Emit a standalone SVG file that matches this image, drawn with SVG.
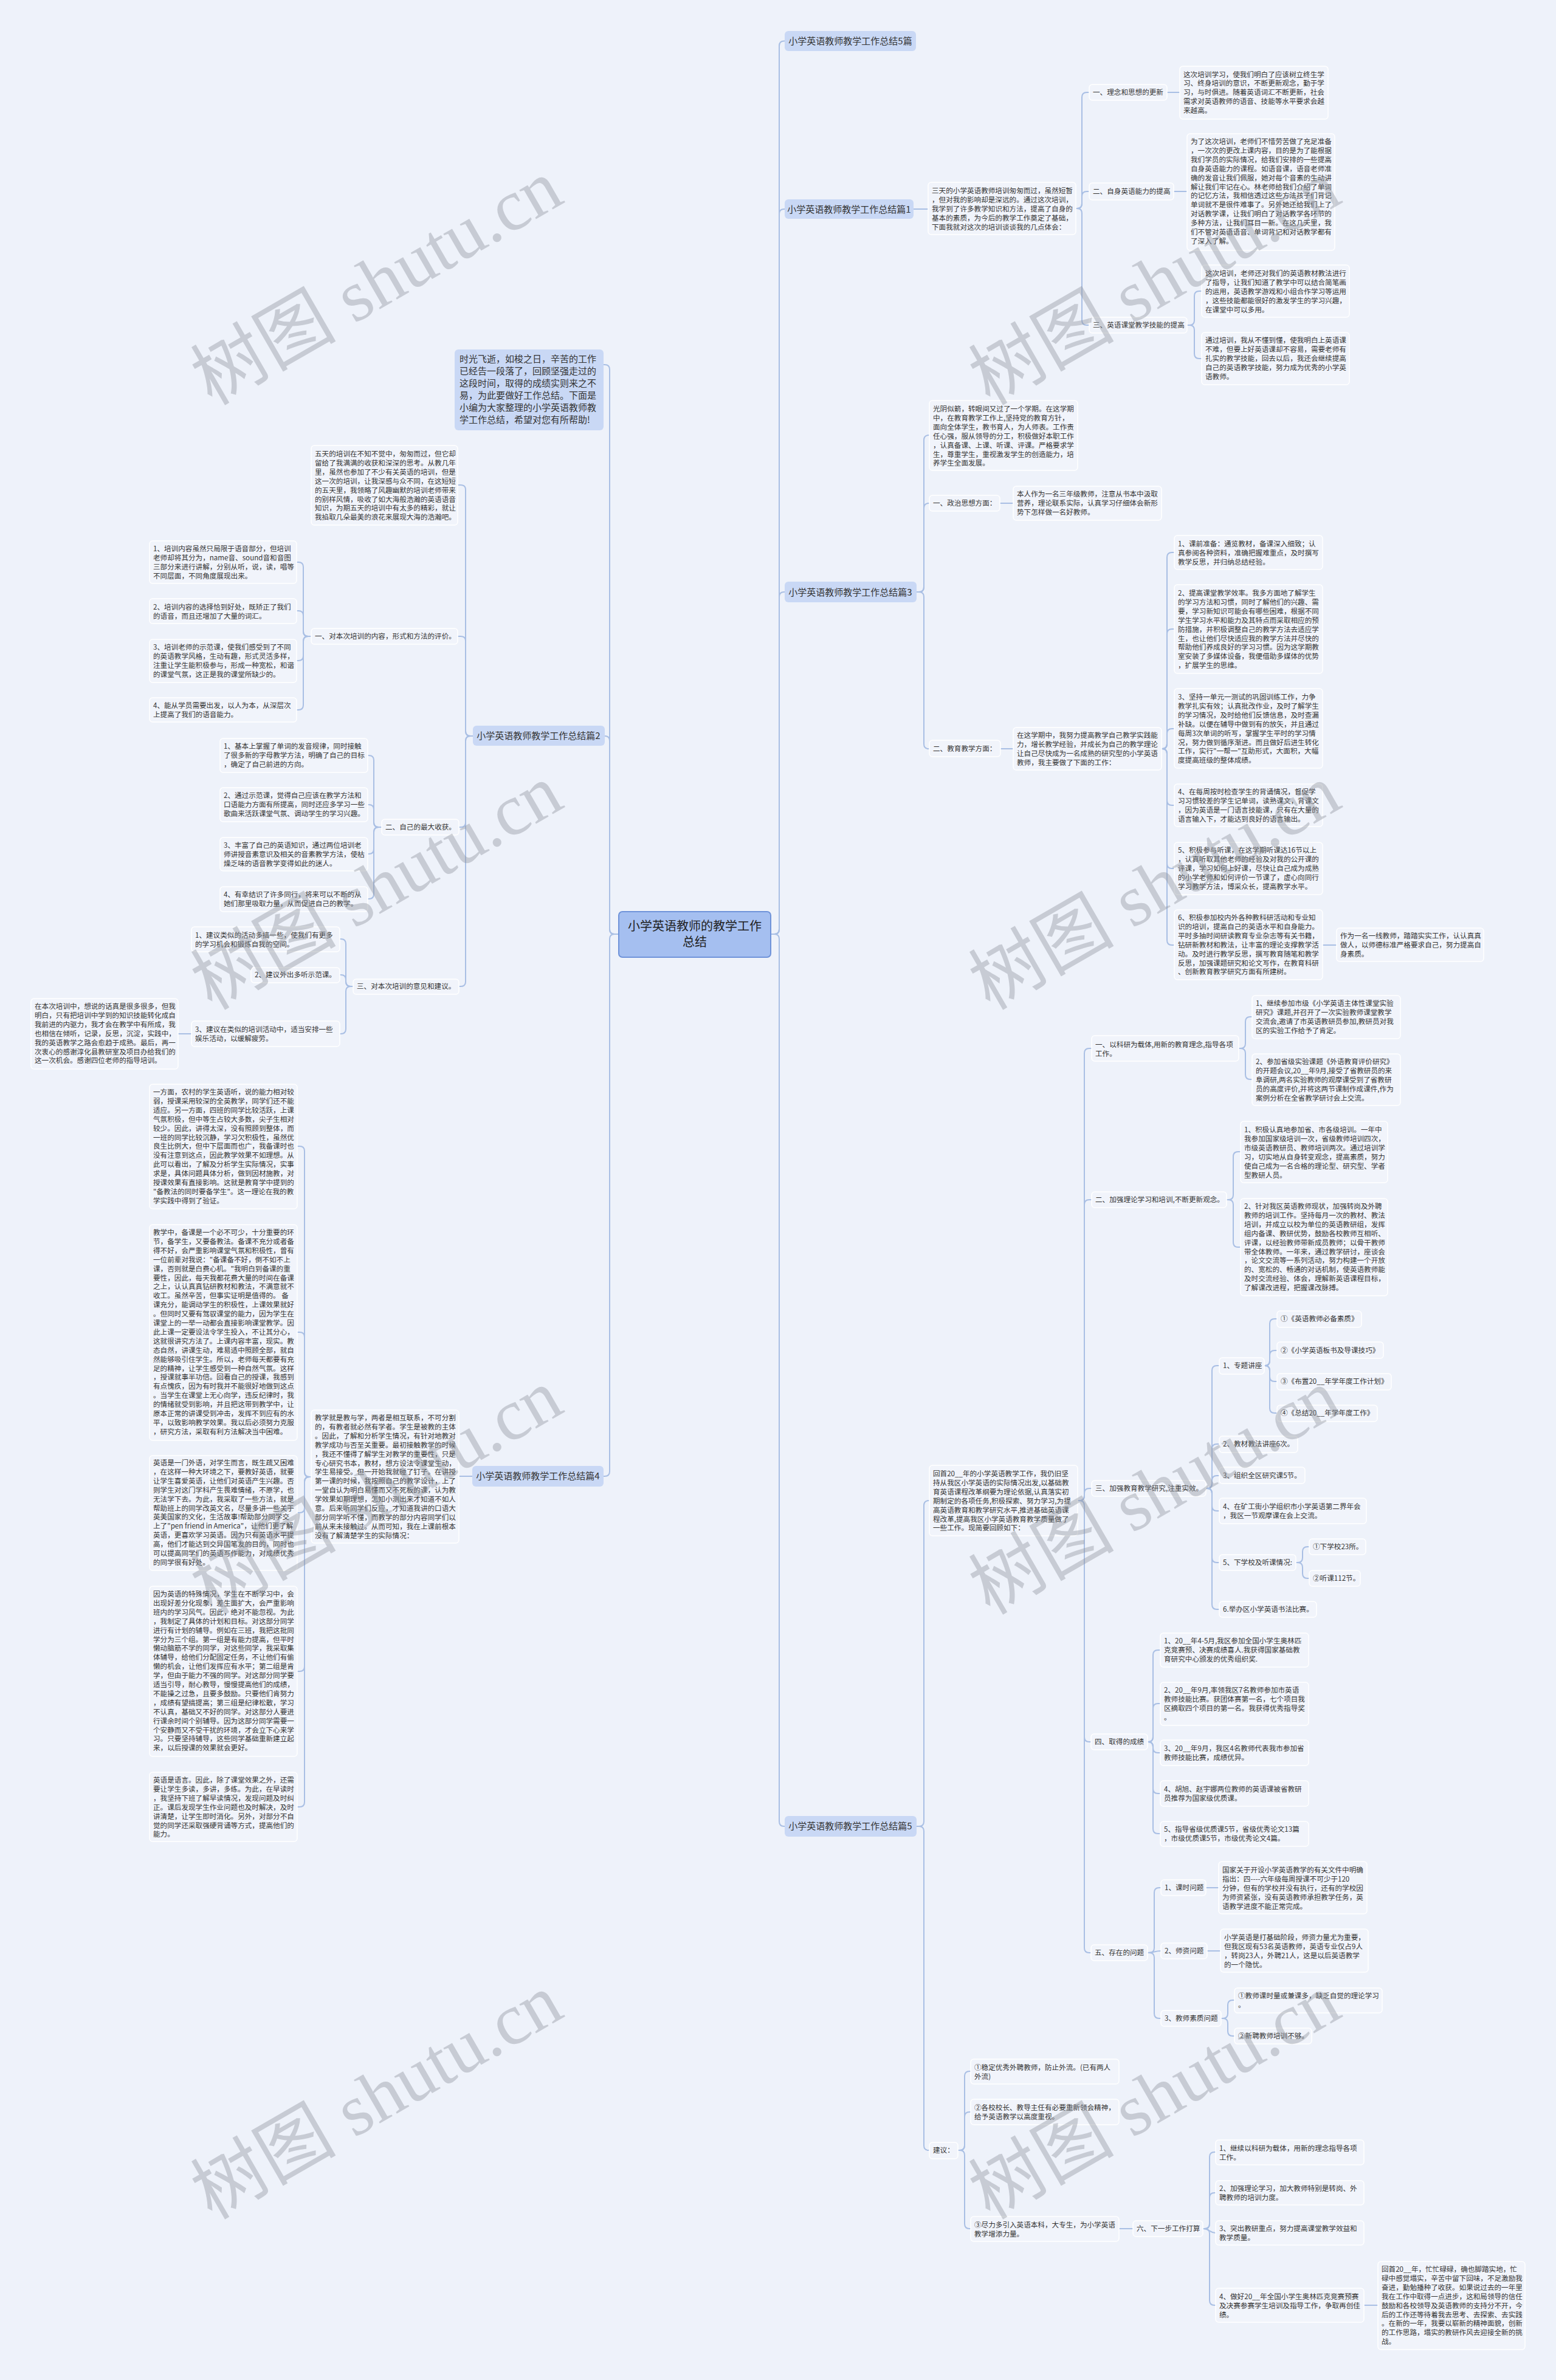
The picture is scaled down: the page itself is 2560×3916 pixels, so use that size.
<svg xmlns="http://www.w3.org/2000/svg" width="2560" height="3916" viewBox="0 0 2560 3916">
<style>
.t{font-family:"Noto Sans CJK SC","Noto Sans",sans-serif;font-size:11.6px;fill:#333}
.tt{font-family:"Noto Sans CJK SC","Noto Sans",sans-serif;font-size:15px;fill:#333}
.tc{font-family:"Noto Sans CJK SC","Noto Sans",sans-serif;font-size:20px;fill:#222}
.box{fill:#f1f4fb;stroke:#ffffff;stroke-width:1.5}
.top{fill:#c9d8f5;stroke:none}
.lk{fill:none;stroke:#a9bfe4;stroke-width:2}
.wm{font-family:"Liberation Serif","Noto Sans CJK SC",serif;font-size:120px;fill:#8c919a;fill-opacity:0.4}
</style>
<rect x="0" y="0" width="2560" height="3916" fill="#eef2fa"/>
<g id="connectors" class="lk">
<path d="M1268 1537 H1274 Q1282 1537 1282 1529 V75.5 Q1282 67.5 1290 67.5 H1291"/>
<path d="M1268 1537 H1274 Q1282 1537 1282 1529 V352 Q1282 344 1290 344 H1291"/>
<path d="M1268 1537 H1274 Q1282 1537 1282 1529 V982 Q1282 974 1290 974 H1291"/>
<path d="M1268 1537 H1274 Q1282 1537 1282 1545 V2997 Q1282 3005 1290 3005 H1291"/>
<path d="M1018 1537 H1011 Q1003 1537 1003 1529 V608 Q1003 600 995 600 H993"/>
<path d="M1018 1537 H1011 Q1003 1537 1003 1529 V1219 Q1003 1211 995 1211"/>
<path d="M1018 1537 H1011 Q1003 1537 1003 1545 V2421 Q1003 2429 995 2429 H993"/>
<path d="M1503 344 H1527"/>
<path d="M1770 343 H1772 Q1780 343 1780 335 V160 Q1780 152 1788 152 H1792"/>
<path d="M1770 343 H1772 Q1780 343 1780 335 V323 Q1780 315 1788 315 H1792"/>
<path d="M1770 343 H1772 Q1780 343 1780 351 V527 Q1780 535 1788 535 H1792"/>
<path d="M1920 152 H1941"/>
<path d="M1931 315 H1953"/>
<path d="M1953 535 H1957 Q1965 535 1965 527 V487 Q1965 479 1973 479 H1977"/>
<path d="M1953 535 H1957 Q1965 535 1965 543 V582 Q1965 590 1973 590 H1977"/>
<path d="M1508 974 H1512 Q1520 974 1520 966 V724 Q1520 716 1528 716 H1529"/>
<path d="M1508 974 H1512 Q1520 974 1520 966 V836 Q1520 828 1528 828 H1529"/>
<path d="M1508 974 H1512 Q1520 974 1520 982 V1224 Q1520 1232 1528 1232 H1529"/>
<path d="M1645 828 H1667"/>
<path d="M1646 1232 H1667"/>
<path d="M1911 1232 H1912 Q1920 1232 1920 1224 V917 Q1920 909 1928 909 H1932"/>
<path d="M1911 1232 H1912 Q1920 1232 1920 1224 V1043 Q1920 1035 1928 1035 H1932"/>
<path d="M1911 1232 H1912 Q1920 1232 1920 1224 V1207 Q1920 1199 1928 1199 H1932"/>
<path d="M1911 1232 H1912 Q1920 1232 1920 1240 V1317 Q1920 1325 1928 1325 H1932"/>
<path d="M1911 1232 H1912 Q1920 1232 1920 1240 V1421 Q1920 1429 1928 1429 H1932"/>
<path d="M1911 1232 H1912 Q1920 1232 1920 1240 V1547 Q1920 1555 1928 1555 H1932"/>
<path d="M2176 1555 H2199"/>
<path d="M1508 3005 H1512 Q1520 3005 1520 2997 V2477 Q1520 2469 1528 2469 H1529"/>
<path d="M1508 3005 H1512 Q1520 3005 1520 3013 V3530 Q1520 3538 1528 3538 H1529"/>
<path d="M1773 2469 H1776 Q1784 2469 1784 2461 V1733 Q1784 1725 1792 1725 H1796"/>
<path d="M1773 2469 H1776 Q1784 2469 1784 2461 V1982 Q1784 1974 1792 1974 H1796"/>
<path d="M1773 2469 H1776 Q1784 2469 1784 2461 V2457 Q1784 2449 1792 2449 H1796"/>
<path d="M1773 2469 H1776 Q1784 2469 1784 2477 V2858 Q1784 2866 1792 2866 H1796"/>
<path d="M1773 2469 H1776 Q1784 2469 1784 2477 V3205 Q1784 3213 1792 3213 H1796"/>
<path d="M2038 1725 H2041 Q2049 1725 2049 1717 V1681 Q2049 1673 2057 1673 H2060"/>
<path d="M2038 1725 H2041 Q2049 1725 2049 1733 V1768 Q2049 1776 2057 1776 H2060"/>
<path d="M2018 1974 H2021 Q2029 1974 2029 1966 V1903 Q2029 1895 2037 1895 H2041"/>
<path d="M2018 1974 H2021 Q2029 1974 2029 1982 V2044 Q2029 2052 2037 2052 H2041"/>
<path d="M1984 2449 H1986 Q1994 2449 1994 2441 V2255 Q1994 2247 2002 2247 H2006"/>
<path d="M1984 2449 H1986 Q1994 2449 1994 2441 V2384 Q1994 2376 2002 2376 H2006"/>
<path d="M1984 2449 H1986 Q1994 2449 1994 2441 V2436 Q1994 2428 2002 2428 H2006"/>
<path d="M1984 2449 H1986 Q1994 2449 1994 2457 V2478 Q1994 2486 2002 2486 H2006"/>
<path d="M1984 2449 H1986 Q1994 2449 1994 2457 V2563 Q1994 2571 2002 2571 H2006"/>
<path d="M1984 2449 H1986 Q1994 2449 1994 2457 V2640 Q1994 2648 2002 2648 H2006"/>
<path d="M2080 2247 H2081 Q2089 2247 2089 2239 V2178 Q2089 2170 2097 2170 H2101"/>
<path d="M2080 2247 H2081 Q2089 2247 2089 2239 V2230 Q2089 2222 2097 2222 H2101"/>
<path d="M2080 2247 H2081 Q2089 2247 2089 2255 V2265 Q2089 2273 2097 2273 H2101"/>
<path d="M2080 2247 H2081 Q2089 2247 2089 2255 V2317 Q2089 2325 2097 2325 H2101"/>
<path d="M2132 2571 H2135 Q2143 2571 2143 2563 V2553 Q2143 2545 2151 2545 H2154"/>
<path d="M2132 2571 H2135 Q2143 2571 2143 2579 V2589 Q2143 2597 2151 2597 H2154"/>
<path d="M1888 2866 H1889 Q1897 2866 1897 2858 V2723 Q1897 2715 1905 2715 H1909"/>
<path d="M1888 2866 H1889 Q1897 2866 1897 2858 V2811 Q1897 2803 1905 2803 H1909"/>
<path d="M1888 2866 H1889 Q1897 2866 1897 2874 V2876 Q1897 2884 1905 2884 H1909"/>
<path d="M1888 2866 H1889 Q1897 2866 1897 2874 V2943 Q1897 2951 1905 2951 H1909"/>
<path d="M1888 2866 H1889 Q1897 2866 1897 2874 V3009 Q1897 3017 1905 3017 H1909"/>
<path d="M1888 3213 H1891 Q1899 3213 1899 3205 V3114 Q1899 3106 1907 3106 H1910"/>
<path d="M1888 3213 C1899 3213 1899 3210 1910 3210"/>
<path d="M1888 3213 H1891 Q1899 3213 1899 3221 V3313 Q1899 3321 1907 3321 H1910"/>
<path d="M1984 3106 H2005"/>
<path d="M1986 3210 H2008"/>
<path d="M2009 3321 H2012 Q2020 3321 2020 3313 V3299 Q2020 3291 2028 3291 H2031"/>
<path d="M2009 3321 H2012 Q2020 3321 2020 3329 V3342 Q2020 3350 2028 3350 H2031"/>
<path d="M1576 3538 H1579 Q1587 3538 1587 3530 V3416 Q1587 3408 1595 3408 H1597"/>
<path d="M1576 3538 H1579 Q1587 3538 1587 3530 V3483 Q1587 3475 1595 3475 H1597"/>
<path d="M1576 3538 H1579 Q1587 3538 1587 3546 V3659 Q1587 3667 1595 3667 H1597"/>
<path d="M1841 3667 H1864"/>
<path d="M1979 3667 H1982 Q1990 3667 1990 3659 V3549 Q1990 3541 1998 3541 H2000"/>
<path d="M1979 3667 H1982 Q1990 3667 1990 3659 V3616 Q1990 3608 1998 3608 H2000"/>
<path d="M1979 3667 C1990 3667 1990 3674 2000 3674"/>
<path d="M1979 3667 H1982 Q1990 3667 1990 3675 V3785 Q1990 3793 1998 3793 H2000"/>
<path d="M2244 3793 H2267"/>
<path d="M778 1211 H774 Q766 1211 766 1203 V806 Q766 798 758 798 H753"/>
<path d="M778 1211 H774 Q766 1211 766 1203 V1055 Q766 1047 758 1047 H753"/>
<path d="M778 1211 H774 Q766 1211 766 1219 V1353 Q766 1361 758 1361 H755"/>
<path d="M778 1211 H774 Q766 1211 766 1219 V1615 Q766 1623 758 1623 H755"/>
<path d="M512 1047 H507 Q499 1047 499 1039 V933 Q499 925 491 925 H488"/>
<path d="M512 1047 H507 Q499 1047 499 1039 V1013 Q499 1005 491 1005 H488"/>
<path d="M512 1047 H507 Q499 1047 499 1055 V1079 Q499 1087 491 1087 H488"/>
<path d="M512 1047 H507 Q499 1047 499 1055 V1160 Q499 1168 491 1168 H488"/>
<path d="M628 1361 H623 Q615 1361 615 1353 V1251 Q615 1243 607 1243 H605"/>
<path d="M628 1361 H623 Q615 1361 615 1353 V1332 Q615 1324 607 1324 H605"/>
<path d="M628 1361 H623 Q615 1361 615 1369 V1397 Q615 1405 607 1405 H605"/>
<path d="M628 1361 H623 Q615 1361 615 1369 V1471 Q615 1479 607 1479 H605"/>
<path d="M581 1623 H577 Q569 1623 569 1615 V1553 Q569 1545 561 1545 H559"/>
<path d="M581 1623 H577 Q569 1623 569 1615 V1612 Q569 1604 561 1604 H559"/>
<path d="M581 1623 H577 Q569 1623 569 1631 V1693 Q569 1701 561 1701 H559"/>
<path d="M315 1701 H293"/>
<path d="M777 2429 H755"/>
<path d="M512 2430 H509 Q501 2430 501 2422 V1894 Q501 1886 493 1886 H489"/>
<path d="M512 2430 H509 Q501 2430 501 2422 V2200 Q501 2192 493 2192 H489"/>
<path d="M512 2430 H509 Q501 2430 501 2438 V2481 Q501 2489 493 2489 H489"/>
<path d="M512 2430 H509 Q501 2430 501 2438 V2742 Q501 2750 493 2750 H489"/>
<path d="M512 2430 H509 Q501 2430 501 2438 V2965 Q501 2973 493 2973 H489"/>
</g>

<g id="root">
<rect x="1018" y="1500" width="250" height="75" rx="6" fill="#a5bff0" stroke="#6f93d9" stroke-width="2"/>
<text class="tc" text-anchor="middle" x="1143" y="1531"><tspan x="1143">小学英语教师的教学工作</tspan><tspan x="1143" dy="26">总结</tspan></text>
</g>

<g id="intro">
<rect class="top" x="748" y="575" width="245" height="133" rx="6"/>
<text class="tt" x="756" y="596"><tspan x="756">时光飞逝，如梭之日，辛苦的工作</tspan><tspan x="756" dy="20">已经告一段落了，回顾坚强走过的</tspan><tspan x="756" dy="20">这段时间，取得的成绩实则来之不</tspan><tspan x="756" dy="20">易，为此要做好工作总结。下面是</tspan><tspan x="756" dy="20">小编为大家整理的小学英语教师教</tspan><tspan x="756" dy="20">学工作总结，希望对您有所帮助!</tspan></text>
</g>

<g id="n5p"><rect class="top" x="1291" y="51" width="216" height="33" rx="6"/><text class="tt" text-anchor="middle" x="1399" y="73">小学英语教师教学工作总结5篇</text></g>
<g id="n1"><rect class="top" x="1291" y="328" width="212" height="32" rx="6"/><text class="tt" text-anchor="middle" x="1397" y="350">小学英语教师教学工作总结篇1</text></g>
<g id="n3"><rect class="top" x="1291" y="957" width="217" height="34" rx="6"/><text class="tt" text-anchor="middle" x="1399" y="980">小学英语教师教学工作总结篇3</text></g>
<g id="n5"><rect class="top" x="1291" y="2988" width="217" height="34" rx="6"/><text class="tt" text-anchor="middle" x="1399" y="3010">小学英语教师教学工作总结篇5</text></g>
<g id="n2"><rect class="top" x="778" y="1194" width="217" height="33" rx="6"/><text class="tt" text-anchor="middle" x="886" y="1216">小学英语教师教学工作总结篇2</text></g>
<g id="n4"><rect class="top" x="777" y="2412" width="216" height="34" rx="6"/><text class="tt" text-anchor="middle" x="885" y="2434">小学英语教师教学工作总结篇4</text></g>

<!-- 篇1 -->
<g id="p1"><rect class="box" x="1527" y="300" width="243" height="86" rx="5"/>
<text class="t" x="1533" y="318"><tspan x="1533">三天的小学英语教师培训匆匆而过，虽然短暂</tspan><tspan x="1533" dy="14.9">，但对我的影响却是深远的。通过这次培训，</tspan><tspan x="1533" dy="14.9">我学到了许多教学知识和方法，提高了自身的</tspan><tspan x="1533" dy="14.9">基本的素质，为今后的教学工作奠定了基础，</tspan><tspan x="1533" dy="14.9">下面我就对这次的培训谈谈我的几点体会：</tspan></text></g>
<g id="p1a"><rect class="box" x="1792" y="139" width="128" height="26" rx="5"/><text class="t" x="1798" y="156">一、理念和思想的更新</text></g>
<g id="p1at"><rect class="box" x="1941" y="109" width="244" height="87" rx="5"/>
<text class="t" x="1947" y="126.5"><tspan x="1947">这次培训学习，使我们明白了应该树立终生学</tspan><tspan x="1947" dy="14.9">习、终身培训的意识，不断更新观念，勤于学</tspan><tspan x="1947" dy="14.9">习，与时俱进。随着英语词汇不断更新，社会</tspan><tspan x="1947" dy="14.9">需求对英语教师的语音、技能等水平要求会越</tspan><tspan x="1947" dy="14.9">来越高。</tspan></text></g>
<g id="p1b"><rect class="box" x="1792" y="301" width="139" height="28" rx="5"/><text class="t" x="1798" y="319">二、自身英语能力的提高</text></g>
<g id="p1bt"><rect class="box" x="1953" y="220" width="243" height="192" rx="5"/>
<text class="t" x="1959" y="237"><tspan x="1959">为了这次培训，老师们不惜劳苦做了充足准备</tspan><tspan x="1959" dy="14.9">，一次次的更改上课内容，目的是为了能根据</tspan><tspan x="1959" dy="14.9">我们学员的实际情况，给我们安排的一些提高</tspan><tspan x="1959" dy="14.9">自身英语能力的课程。如语音课，语音老师准</tspan><tspan x="1959" dy="14.9">确的发音让我们佩服，她对每个音素的生动讲</tspan><tspan x="1959" dy="14.9">解让我们牢记在心。林老师给我们介绍了单词</tspan><tspan x="1959" dy="14.9">的记忆方法，我相信透过这些方法孩子们背记</tspan><tspan x="1959" dy="14.9">单词就不是很件难事了。另外她还给我们上了</tspan><tspan x="1959" dy="14.9">对话教学课，让我们明白了对话教学各环节的</tspan><tspan x="1959" dy="14.9">多种方法，让我们耳目一新。在这几天里，我</tspan><tspan x="1959" dy="14.9">们不管对英语语音、单词背记和对话教学都有</tspan><tspan x="1959" dy="14.9">了深入了解。</tspan></text></g>
<g id="p1c"><rect class="box" x="1792" y="522" width="161" height="26" rx="5"/><text class="t" x="1798" y="539">三、英语课堂教学技能的提高</text></g>
<g id="p1ct1"><rect class="box" x="1977" y="436" width="243" height="86" rx="5"/>
<text class="t" x="1983" y="454"><tspan x="1983">这次培训，老师还对我们的英语教材教法进行</tspan><tspan x="1983" dy="14.9">了指导，让我们知道了教学中可以结合简笔画</tspan><tspan x="1983" dy="14.9">的运用，英语教学游戏和小组合作学习等运用</tspan><tspan x="1983" dy="14.9">，这些技能都能很好的激发学生的学习兴趣，</tspan><tspan x="1983" dy="14.9">在课堂中可以多用。</tspan></text></g>
<g id="p1ct2"><rect class="box" x="1977" y="547" width="243" height="86" rx="5"/>
<text class="t" x="1983" y="564"><tspan x="1983">通过培训，我从不懂到懂，使我明白上英语课</tspan><tspan x="1983" dy="14.9">不难，但要上好英语课却不容易，需要老师有</tspan><tspan x="1983" dy="14.9">扎实的教学技能，回去以后，我还会继续提高</tspan><tspan x="1983" dy="14.9">自己的英语教学技能，努力成为优秀的小学英</tspan><tspan x="1983" dy="14.9">语教师。</tspan></text></g>

<!-- 篇3 -->
<g id="p3"><rect class="box" x="1529" y="659" width="244" height="115" rx="5"/>
<text class="t" x="1535" y="677"><tspan x="1535">光阴似箭，转眼间又过了一个学期。在这学期</tspan><tspan x="1535" dy="14.9">中，在教育教学工作上,坚持党的教育方针，</tspan><tspan x="1535" dy="14.9">面向全体学生，教书育人，为人师表。工作责</tspan><tspan x="1535" dy="14.9">任心强，服从领导的分工，积极做好本职工作</tspan><tspan x="1535" dy="14.9">，认真备课、上课、听课、评课。严格要求学</tspan><tspan x="1535" dy="14.9">生，尊重学生，重视激发学生的创造能力，培</tspan><tspan x="1535" dy="14.9">养学生全面发展。</tspan></text></g>
<g id="p3a"><rect class="box" x="1529" y="815" width="116" height="26" rx="5"/><text class="t" x="1535" y="832">一、政治思想方面：</text></g>
<g id="p3at"><rect class="box" x="1667" y="800" width="244" height="56" rx="5"/>
<text class="t" x="1673" y="817"><tspan x="1673">本人作为一名三年级教师，注意从书本中汲取</tspan><tspan x="1673" dy="14.9">营养，理论联系实际，认真学习仔细体会新形</tspan><tspan x="1673" dy="14.9">势下怎样做一名好教师。</tspan></text></g>
<g id="p3b"><rect class="box" x="1529" y="1218" width="117" height="27" rx="5"/><text class="t" x="1535" y="1236">二、教育教学方面：</text></g>
<g id="p3bt"><rect class="box" x="1667" y="1197" width="244" height="70" rx="5"/>
<text class="t" x="1673" y="1214"><tspan x="1673">在这学期中，我努力提高教学自己教学实践能</tspan><tspan x="1673" dy="14.9">力，增长教学经验，并成长为自己的教学理论</tspan><tspan x="1673" dy="14.9">让自己尽快成为一名成熟的研究型的小学英语</tspan><tspan x="1673" dy="14.9">教师，我主要做了下面的工作：</tspan></text></g>
<g id="p3i1"><rect class="box" x="1932" y="881" width="244" height="56" rx="5"/>
<text class="t" x="1938" y="899"><tspan x="1938">1、课前准备：通览教材，备课深入细致；认</tspan><tspan x="1938" dy="14.9">真参阅各种资料，准确把握难重点，及时撰写</tspan><tspan x="1938" dy="14.9">教学反思，并归纳总结经验。</tspan></text></g>
<g id="p3i2"><rect class="box" x="1932" y="962" width="244" height="146" rx="5"/>
<text class="t" x="1938" y="980"><tspan x="1938">2、提高课堂教学效率。我多方面地了解学生</tspan><tspan x="1938" dy="14.9">的学习方法和习惯，同时了解他们的兴趣、需</tspan><tspan x="1938" dy="14.9">要，学习新知识可能会有哪些困难，根据不同</tspan><tspan x="1938" dy="14.9">学生学习水平和能力及其特点而采取相应的预</tspan><tspan x="1938" dy="14.9">防措施，并积极调整自己的教学方法去适应学</tspan><tspan x="1938" dy="14.9">生，也让他们尽快适应我的教学方法并尽快的</tspan><tspan x="1938" dy="14.9">帮助他们养成良好的学习习惯。因为这学期教</tspan><tspan x="1938" dy="14.9">室安装了多媒体设备，我便借助多媒体的优势</tspan><tspan x="1938" dy="14.9">，扩展学生的思维。</tspan></text></g>
<g id="p3i3"><rect class="box" x="1932" y="1133" width="244" height="131" rx="5"/>
<text class="t" x="1938" y="1151"><tspan x="1938">3、坚持一单元一测试的巩固训练工作，力争</tspan><tspan x="1938" dy="14.9">教学扎实有效；认真批改作业，及时了解学生</tspan><tspan x="1938" dy="14.9">的学习情况，及时给他们反馈信息，及时查漏</tspan><tspan x="1938" dy="14.9">补缺。以便在辅导中做到有的放矢，并且通过</tspan><tspan x="1938" dy="14.9">每周3次单词的听写，掌握学生平时的学习情</tspan><tspan x="1938" dy="14.9">况，努力做到循序渐进。而且做好后进生转化</tspan><tspan x="1938" dy="14.9">工作，实行"一帮一"互助形式，大面积，大幅</tspan><tspan x="1938" dy="14.9">度提高班级的整体成绩。</tspan></text></g>
<g id="p3i4"><rect class="box" x="1932" y="1290" width="244" height="70" rx="5"/>
<text class="t" x="1938" y="1307"><tspan x="1938">4、在每周按时检查学生的背诵情况，督促学</tspan><tspan x="1938" dy="14.9">习习惯较差的学生记单词，读熟课文，背课文</tspan><tspan x="1938" dy="14.9">，因为英语是一门语言技能课，只有在大量的</tspan><tspan x="1938" dy="14.9">语言输入下，才能达到良好的语言输出。</tspan></text></g>
<g id="p3i5"><rect class="box" x="1932" y="1386" width="244" height="86" rx="5"/>
<text class="t" x="1938" y="1403"><tspan x="1938">5、积极参与听课，在这学期听课达16节以上</tspan><tspan x="1938" dy="14.9">，认真听取其他老师的经验及对我的公开课的</tspan><tspan x="1938" dy="14.9">评课，学习如何上好课，尽快让自己成为成熟</tspan><tspan x="1938" dy="14.9">的小学老师和如何评价一节课了，虚心向同行</tspan><tspan x="1938" dy="14.9">学习教学方法，博采众长，提高教学水平。</tspan></text></g>
<g id="p3i6"><rect class="box" x="1932" y="1497" width="244" height="115" rx="5"/>
<text class="t" x="1938" y="1514"><tspan x="1938">6、积极参加校内外各种教科研活动和专业知</tspan><tspan x="1938" dy="14.9">识的培训，提高自己的英语水平和自身能力。</tspan><tspan x="1938" dy="14.9">平时多抽时间研读教育专业杂志等有关书籍，</tspan><tspan x="1938" dy="14.9">钻研新教材和教法，让丰富的理论支撑教学活</tspan><tspan x="1938" dy="14.9">动。及时进行教学反思，撰写教育随笔和教学</tspan><tspan x="1938" dy="14.9">反思，加强课题研究和论文写作，在教育科研</tspan><tspan x="1938" dy="14.9">、创新教育教学研究方面有所建树。</tspan></text></g>
<g id="p3side"><rect class="box" x="2199" y="1527" width="242" height="55" rx="5"/>
<text class="t" x="2205" y="1544"><tspan x="2205">作为一名一线教师，踏踏实实工作，认认真真</tspan><tspan x="2205" dy="14.9">做人，以师德标准严格要求自己，努力提高自</tspan><tspan x="2205" dy="14.9">身素质。</tspan></text></g>

<!-- 篇5 -->
<g id="p5"><rect class="box" x="1529" y="2411" width="244" height="116" rx="5"/>
<text class="t" x="1535" y="2429"><tspan x="1535">回首20__年的小学英语教学工作，我仍旧坚</tspan><tspan x="1535" dy="14.9">持从我区小学英语的实际情况出发,以基础教</tspan><tspan x="1535" dy="14.9">育英语课程改革纲要为理论依据,认真落实初</tspan><tspan x="1535" dy="14.9">期制定的各项任务,积极探索、努力学习,为提</tspan><tspan x="1535" dy="14.9">高英语教育和教学研究水平,推进基础英语课</tspan><tspan x="1535" dy="14.9">程改革,提高我区小学英语教育教学质量做了</tspan><tspan x="1535" dy="14.9">一些工作。现简要回顾如下：</tspan></text></g>
<g id="p5a"><rect class="box" x="1796" y="1704" width="242" height="42" rx="5"/>
<text class="t" x="1802" y="1723"><tspan x="1802">一、以科研为载体,用新的教育理念,指导各项</tspan><tspan x="1802" dy="14.9">工作。</tspan></text></g>
<g id="p5a1"><rect class="box" x="2060" y="1638" width="244" height="71" rx="5"/>
<text class="t" x="2066" y="1655"><tspan x="2066">1、继续参加市级《小学英语主体性课堂实验</tspan><tspan x="2066" dy="14.9">研究》课题,并召开了一次实验教师课堂教学</tspan><tspan x="2066" dy="14.9">交流会,邀请了市英语教研员参加,教研员对我</tspan><tspan x="2066" dy="14.9">区的实验工作给予了肯定。</tspan></text></g>
<g id="p5a2"><rect class="box" x="2060" y="1734" width="244" height="85" rx="5"/>
<text class="t" x="2066" y="1751"><tspan x="2066">2、参加省级实验课题《外语教育评价研究》</tspan><tspan x="2066" dy="14.9">的开题会议,20__年9月,接受了省教研员的来</tspan><tspan x="2066" dy="14.9">阜调研,两名实验教师的观摩课受到了省教研</tspan><tspan x="2066" dy="14.9">员的高度评价,并将这两节课制作成课件,作为</tspan><tspan x="2066" dy="14.9">案例分析在全省教学研讨会上交流。</tspan></text></g>
<g id="p5b"><rect class="box" x="1796" y="1961" width="222" height="26" rx="5"/><text class="t" x="1802" y="1978">二、加强理论学习和培训,不断更新观念。</text></g>
<g id="p5b1"><rect class="box" x="2041" y="1845" width="242" height="101" rx="5"/>
<text class="t" x="2047" y="1863"><tspan x="2047">1、积极认真地参加省、市各级培训。一年中</tspan><tspan x="2047" dy="14.9">我参加国家级培训一次，省级教师培训四次，</tspan><tspan x="2047" dy="14.9">市级英语教研员、教师培训两次。通过培训学</tspan><tspan x="2047" dy="14.9">习，切实地从自身转变观念，提高素质，努力</tspan><tspan x="2047" dy="14.9">使自己成为一名合格的理论型、研究型、学者</tspan><tspan x="2047" dy="14.9">型教研人员。</tspan></text></g>
<g id="p5b2"><rect class="box" x="2041" y="1972" width="242" height="160" rx="5"/>
<text class="t" x="2047" y="1989"><tspan x="2047">2、针对我区英语教师现状，加强转岗及外聘</tspan><tspan x="2047" dy="14.9">教师的培训工作。坚持每月一次的教材、教法</tspan><tspan x="2047" dy="14.9">培训，并成立以校为单位的英语教研组，发挥</tspan><tspan x="2047" dy="14.9">组内备课、教研优势，鼓励各校教师互相听、</tspan><tspan x="2047" dy="14.9">评课，以经验教师带新成员教师；以骨干教师</tspan><tspan x="2047" dy="14.9">带全体教师。一年来，通过教学研讨，座谈会</tspan><tspan x="2047" dy="14.9">，论文交流等一系列活动，努力构建一个开放</tspan><tspan x="2047" dy="14.9">的、宽松的、畅通的对话机制，使英语教师能</tspan><tspan x="2047" dy="14.9">及时交流经验、体会，理解新英语课程目标，</tspan><tspan x="2047" dy="14.9">了解课改进程，把握课改脉搏。</tspan></text></g>
<g id="p5c"><rect class="box" x="1796" y="2436" width="188" height="26" rx="5"/><text class="t" x="1802" y="2453">三、加强教育教学研究,注重实效。</text></g>
<g id="p5c1"><rect class="box" x="2006" y="2234" width="74" height="27" rx="5"/><text class="t" x="2012" y="2251">1、专题讲座</text></g>
<g id="p5c1a"><rect class="box" x="2101" y="2157" width="139" height="27" rx="5"/><text class="t" x="2107" y="2174">①《英语教师必备素质》</text></g>
<g id="p5c1b"><rect class="box" x="2101" y="2208" width="175" height="27" rx="5"/><text class="t" x="2107" y="2226">②《小学英语板书及导课技巧》</text></g>
<g id="p5c1c"><rect class="box" x="2101" y="2260" width="188" height="27" rx="5"/><text class="t" x="2107" y="2277">③《布置20__年学年度工作计划》</text></g>
<g id="p5c1d"><rect class="box" x="2101" y="2312" width="165" height="27" rx="5"/><text class="t" x="2107" y="2329">④《总结20__年学年度工作》</text></g>
<g id="p5c2"><rect class="box" x="2006" y="2363" width="129" height="27" rx="5"/><text class="t" x="2012" y="2380">2、教材教法讲座6次。</text></g>
<g id="p5c3"><rect class="box" x="2006" y="2414" width="141" height="27" rx="5"/><text class="t" x="2012" y="2432">3、组织全区研究课5节。</text></g>
<g id="p5c4"><rect class="box" x="2006" y="2465" width="242" height="42" rx="5"/>
<text class="t" x="2012" y="2483"><tspan x="2012">4、在矿工街小学组织市小学英语第二界年会</tspan><tspan x="2012" dy="14.9">，我区一节观摩课在会上交流。</tspan></text></g>
<g id="p5c5"><rect class="box" x="2006" y="2558" width="126" height="26" rx="5"/><text class="t" x="2012" y="2575">5、下学校及听课情况:</text></g>
<g id="p5c5a"><rect class="box" x="2154" y="2532" width="93" height="26" rx="5"/><text class="t" x="2160" y="2549">①下学校23所。</text></g>
<g id="p5c5b"><rect class="box" x="2154" y="2584" width="84" height="26" rx="5"/><text class="t" x="2160" y="2601">②听课112节。</text></g>
<g id="p5c6"><rect class="box" x="2006" y="2635" width="160" height="26" rx="5"/><text class="t" x="2012" y="2652">6.举办区小学英语书法比赛。</text></g>
<g id="p5d"><rect class="box" x="1795" y="2853" width="93" height="26" rx="5"/><text class="t" x="1801" y="2870">四、取得的成绩</text></g>
<g id="p5d1"><rect class="box" x="1909" y="2687" width="244" height="56" rx="5"/>
<text class="t" x="1915" y="2704"><tspan x="1915">1、20__年4-5月,我区参加全国小学生奥林匹</tspan><tspan x="1915" dy="14.9">克竞赛预、决赛成绩喜人.我获得国家基础教</tspan><tspan x="1915" dy="14.9">育研究中心颁发的优秀组织奖.</tspan></text></g>
<g id="p5d2"><rect class="box" x="1909" y="2768" width="244" height="71" rx="5"/>
<text class="t" x="1915" y="2785"><tspan x="1915">2、20__年9月,率领我区7名教师参加市英语</tspan><tspan x="1915" dy="14.9">教师技能比赛。获团体赛第一名，七个项目我</tspan><tspan x="1915" dy="14.9">区摘取四个项目的第一名。我获得优秀指导奖</tspan><tspan x="1915" dy="14.9">。</tspan></text></g>
<g id="p5d3"><rect class="box" x="1909" y="2863" width="244" height="42" rx="5"/>
<text class="t" x="1915" y="2881"><tspan x="1915">3、20__年9月，我区4名教师代表我市参加省</tspan><tspan x="1915" dy="14.9">教师技能比赛，成绩优异。</tspan></text></g>
<g id="p5d4"><rect class="box" x="1909" y="2930" width="244" height="42" rx="5"/>
<text class="t" x="1915" y="2948"><tspan x="1915">4、胡旭、赵宇娜两位教师的英语课被省教研</tspan><tspan x="1915" dy="14.9">员推荐为国家级优质课。</tspan></text></g>
<g id="p5d5"><rect class="box" x="1909" y="2997" width="244" height="41" rx="5"/>
<text class="t" x="1915" y="3014"><tspan x="1915">5、指导省级优质课5节，省级优秀论文13篇</tspan><tspan x="1915" dy="14.9">，市级优质课5节，市级优秀论文4篇。</tspan></text></g>
<g id="p5e"><rect class="box" x="1795" y="3200" width="93" height="26" rx="5"/><text class="t" x="1801" y="3217">五、存在的问题</text></g>
<g id="p5e1"><rect class="box" x="1910" y="3093" width="74" height="26" rx="5"/><text class="t" x="1916" y="3110">1、课时问题</text></g>
<g id="p5e1t"><rect class="box" x="2005" y="3063" width="244" height="86" rx="5"/>
<text class="t" x="2011" y="3081"><tspan x="2011">国家关于开设小学英语教学的有关文件中明确</tspan><tspan x="2011" dy="14.9">指出：四----六年级每周授课不可少于120</tspan><tspan x="2011" dy="14.9">分钟，但有的学校并没有执行，还有的学校因</tspan><tspan x="2011" dy="14.9">为师资紧张，没有英语教师承担教学任务，英</tspan><tspan x="2011" dy="14.9">语教学进度不能正常完成。</tspan></text></g>
<g id="p5e2"><rect class="box" x="1910" y="3197" width="76" height="26" rx="5"/><text class="t" x="1916" y="3214">2、师资问题</text></g>
<g id="p5e2t"><rect class="box" x="2008" y="3174" width="243" height="71" rx="5"/>
<text class="t" x="2014" y="3192"><tspan x="2014">小学英语是打基础阶段，师资力量尤为重要，</tspan><tspan x="2014" dy="14.9">但我区现有53名英语教师，英语专业仅占9人</tspan><tspan x="2014" dy="14.9">，转岗23人，外聘21人，这是以后英语教学</tspan><tspan x="2014" dy="14.9">的一个隐忧。</tspan></text></g>
<g id="p5e3"><rect class="box" x="1910" y="3308" width="99" height="26" rx="5"/><text class="t" x="1916" y="3325">3、教师素质问题</text></g>
<g id="p5e3a"><rect class="box" x="2031" y="3271" width="243" height="41" rx="5"/>
<text class="t" x="2037" y="3288"><tspan x="2037">①教师课时量或兼课多，缺乏自觉的理论学习</tspan><tspan x="2037" dy="14.9">。</tspan></text></g>
<g id="p5e3b"><rect class="box" x="2031" y="3337" width="127" height="26" rx="5"/><text class="t" x="2037" y="3354">②新聘教师培训不够。</text></g>
<g id="p5f"><rect class="box" x="1529" y="3525" width="47" height="27" rx="5"/><text class="t" x="1535" y="3542">建议：</text></g>
<g id="p5f1"><rect class="box" x="1597" y="3388" width="244" height="41" rx="5"/>
<text class="t" x="1603" y="3406"><tspan x="1603">①稳定优秀外聘教师，防止外流。(已有两人</tspan><tspan x="1603" dy="14.9">外流)</tspan></text></g>
<g id="p5f2"><rect class="box" x="1597" y="3454" width="244" height="42" rx="5"/>
<text class="t" x="1603" y="3472"><tspan x="1603">②各校校长、教导主任有必要重新领会精神，</tspan><tspan x="1603" dy="14.9">给予英语教学以高度重视。</tspan></text></g>
<g id="p5f3"><rect class="box" x="1597" y="3647" width="244" height="41" rx="5"/>
<text class="t" x="1603" y="3665"><tspan x="1603">③尽力多引入英语本科，大专生，为小学英语</tspan><tspan x="1603" dy="14.9">教学增添力量。</tspan></text></g>
<g id="p5g"><rect class="box" x="1864" y="3654" width="115" height="26" rx="5"/><text class="t" x="1870" y="3671">六、下一步工作打算</text></g>
<g id="p5g1"><rect class="box" x="2000" y="3521" width="244" height="41" rx="5"/>
<text class="t" x="2006" y="3539"><tspan x="2006">1、继续以科研为载体，用新的理念指导各项</tspan><tspan x="2006" dy="14.9">工作。</tspan></text></g>
<g id="p5g2"><rect class="box" x="2000" y="3588" width="244" height="40" rx="5"/>
<text class="t" x="2006" y="3605"><tspan x="2006">2、加强理论学习，加大教师特别是转岗、外</tspan><tspan x="2006" dy="14.9">聘教师的培训力度。</tspan></text></g>
<g id="p5g3"><rect class="box" x="2000" y="3654" width="244" height="40" rx="5"/>
<text class="t" x="2006" y="3671"><tspan x="2006">3、突出教研重点，努力提高课堂教学效益和</tspan><tspan x="2006" dy="14.9">教学质量。</tspan></text></g>
<g id="p5g4"><rect class="box" x="2000" y="3765" width="244" height="56" rx="5"/>
<text class="t" x="2006" y="3783"><tspan x="2006">4、做好20__年全国小学生奥林匹克竞赛预赛</tspan><tspan x="2006" dy="14.9">及决赛参赛学生培训及指导工作，争取再创佳</tspan><tspan x="2006" dy="14.9">绩。</tspan></text></g>
<g id="p5final"><rect class="box" x="2267" y="3721" width="242" height="145" rx="5"/>
<text class="t" x="2273" y="3738"><tspan x="2273">回首20__年，忙忙碌碌，确也脚踏实地，忙</tspan><tspan x="2273" dy="14.9">碌中感觉塌实，辛苦中留下回味，不足激励我</tspan><tspan x="2273" dy="14.9">奋进，勤勉播种了收获。如果说过去的一年里</tspan><tspan x="2273" dy="14.9">我在工作中取得一点进步，这和局领导的信任</tspan><tspan x="2273" dy="14.9">鼓励和各校领导及英语教师的支持分不开，今</tspan><tspan x="2273" dy="14.9">后的工作还等待着我去思考、去探索、去实践</tspan><tspan x="2273" dy="14.9">。在新的一年，我要以崭新的精神面貌，创新</tspan><tspan x="2273" dy="14.9">的工作思路，塌实的教研作风去迎接全新的挑</tspan><tspan x="2273" dy="14.9">战。</tspan></text></g>

<!-- 篇2 -->
<g id="p2"><rect class="box" x="512" y="733" width="241" height="131" rx="5"/>
<text class="t" x="518" y="751"><tspan x="518">五天的培训在不知不觉中，匆匆而过，但它却</tspan><tspan x="518" dy="14.9">留给了我满满的收获和深深的思考。从教几年</tspan><tspan x="518" dy="14.9">里，虽然也参加了不少有关英语的培训，但是</tspan><tspan x="518" dy="14.9">这一次的培训，让我深感与众不同，在这短短</tspan><tspan x="518" dy="14.9">的五天里，我领略了风趣幽默的培训老师带来</tspan><tspan x="518" dy="14.9">的别样风情，吸收了如大海般浩瀚的英语语音</tspan><tspan x="518" dy="14.9">知识，为期五天的培训中有太多的精彩，就让</tspan><tspan x="518" dy="14.9">我掐取几朵最美的浪花来展现大海的浩瀚吧。</tspan></text></g>
<g id="p2a"><rect class="box" x="512" y="1034" width="241" height="26" rx="5"/><text class="t" x="518" y="1051">一、对本次培训的内容，形式和方法的评价。</text></g>
<g id="p2a1"><rect class="box" x="246" y="890" width="242" height="70" rx="5"/>
<text class="t" x="252" y="907"><tspan x="252">1、培训内容虽然只局限于语音部分，但培训</tspan><tspan x="252" dy="14.9">老师却将其分为，name音、sound音和音图</tspan><tspan x="252" dy="14.9">三部分来进行讲解，分别从听，说，读，唱等</tspan><tspan x="252" dy="14.9">不同层面，不同角度展现出来。</tspan></text></g>
<g id="p2a2"><rect class="box" x="246" y="985" width="242" height="41" rx="5"/>
<text class="t" x="252" y="1003"><tspan x="252">2、培训内容的选择恰到好处，既矫正了我们</tspan><tspan x="252" dy="14.9">的语音，而且还增加了大量的词汇。</tspan></text></g>
<g id="p2a3"><rect class="box" x="246" y="1052" width="242" height="71" rx="5"/>
<text class="t" x="252" y="1069"><tspan x="252">3、培训老师的示范课，使我们感受到了不同</tspan><tspan x="252" dy="14.9">的英语教学风格，生动有趣，形式灵活多样，</tspan><tspan x="252" dy="14.9">注重让学生能积极参与，形成一种宽松，和谐</tspan><tspan x="252" dy="14.9">的课堂气氛，这正是我的课堂所缺少的。</tspan></text></g>
<g id="p2a4"><rect class="box" x="246" y="1148" width="242" height="40" rx="5"/>
<text class="t" x="252" y="1165"><tspan x="252">4、能从学员需要出发，以人为本，从深层次</tspan><tspan x="252" dy="14.9">上提高了我们的语音能力。</tspan></text></g>
<g id="p2b"><rect class="box" x="628" y="1348" width="127" height="26" rx="5"/><text class="t" x="634" y="1365">二、自己的最大收获。</text></g>
<g id="p2b1"><rect class="box" x="362" y="1215" width="243" height="56" rx="5"/>
<text class="t" x="368" y="1232"><tspan x="368">1、基本上掌握了单词的发音规律，同时接触</tspan><tspan x="368" dy="14.9">了很多新的字母教学方法，明确了自己的目标</tspan><tspan x="368" dy="14.9">，确定了自己前进的方向。</tspan></text></g>
<g id="p2b2"><rect class="box" x="362" y="1296" width="243" height="56" rx="5"/>
<text class="t" x="368" y="1313"><tspan x="368">2、通过示范课，觉得自己应该在教学方法和</tspan><tspan x="368" dy="14.9">口语能力方面有所提高，同时还应多学习一些</tspan><tspan x="368" dy="14.9">歌曲来活跃课堂气氛、调动学生的学习兴趣。</tspan></text></g>
<g id="p2b3"><rect class="box" x="362" y="1378" width="243" height="55" rx="5"/>
<text class="t" x="368" y="1395"><tspan x="368">3、丰富了自己的英语知识，通过两位培训老</tspan><tspan x="368" dy="14.9">师讲授音素意识及相关的音素教学方法，使枯</tspan><tspan x="368" dy="14.9">燥乏味的语音教学变得如此的迷人。</tspan></text></g>
<g id="p2b4"><rect class="box" x="362" y="1459" width="243" height="41" rx="5"/>
<text class="t" x="368" y="1476"><tspan x="368">4、有幸结识了许多同行，将来可以不断的从</tspan><tspan x="368" dy="14.9">她们那里吸取力量，从而促进自己的教学。</tspan></text></g>
<g id="p2c"><rect class="box" x="581" y="1611" width="174" height="25" rx="5"/><text class="t" x="587" y="1627">三、对本次培训的意见和建议。</text></g>
<g id="p2c1"><rect class="box" x="315" y="1525" width="244" height="41" rx="5"/>
<text class="t" x="321" y="1543"><tspan x="321">1、建议类似的活动多搞一些，使我们有更多</tspan><tspan x="321" dy="14.9">的学习机会和锻炼自我的空间。</tspan></text></g>
<g id="p2c2"><rect class="box" x="413" y="1592" width="146" height="25" rx="5"/><text class="t" x="419" y="1608">2、建议外出多听示范课。</text></g>
<g id="p2c3"><rect class="box" x="315" y="1680" width="244" height="42" rx="5"/>
<text class="t" x="321" y="1698"><tspan x="321">3、建议在类似的培训活动中，适当安排一些</tspan><tspan x="321" dy="14.9">娱乐活动，以缓解疲劳。</tspan></text></g>
<g id="p2side"><rect class="box" x="51" y="1643" width="242" height="116" rx="5"/>
<text class="t" x="57" y="1660"><tspan x="57">在本次培训中，想说的话真是很多很多，但我</tspan><tspan x="57" dy="14.9">明白，只有把培训中学到的知识技能转化成自</tspan><tspan x="57" dy="14.9">我前进的内驱力，我才会在教学中有所成，我</tspan><tspan x="57" dy="14.9">也相信在倾听，记录，反思，沉淀，实践中，</tspan><tspan x="57" dy="14.9">我的英语教学之路会愈趋于成熟。最后，再一</tspan><tspan x="57" dy="14.9">次衷心的感谢淳化县教研室及项目办给我们的</tspan><tspan x="57" dy="14.9">这一次机会。感谢四位老师的指导培训。</tspan></text></g>

<!-- 篇4 -->
<g id="p4"><rect class="box" x="512" y="2320" width="243" height="219" rx="5"/>
<text class="t" x="518" y="2337"><tspan x="518">教学就是教与学，两者是相互联系，不可分割</tspan><tspan x="518" dy="14.9">的，有教者就必然有学者。学生是被教的主体</tspan><tspan x="518" dy="14.9">。因此，了解和分析学生情况，有针对地教对</tspan><tspan x="518" dy="14.9">教学成功与否至关重要。最初接触教学的时候</tspan><tspan x="518" dy="14.9">，我还不懂得了解学生对教学的重要性，只是</tspan><tspan x="518" dy="14.9">专心研究书本，教材，想方设法令课堂生动，</tspan><tspan x="518" dy="14.9">学生易接受。但一开始我就碰了钉子。在讲授</tspan><tspan x="518" dy="14.9">第一课的时候，我按照自己的教学设计，上了</tspan><tspan x="518" dy="14.9">一堂自认为明白易懂而又不死板的课，认为教</tspan><tspan x="518" dy="14.9">学效果如期理想，怎知小测出来才知道不如人</tspan><tspan x="518" dy="14.9">意。后来听同学们反应，才知道我讲的口语大</tspan><tspan x="518" dy="14.9">部分同学听不懂，而教学的部分内容同学们以</tspan><tspan x="518" dy="14.9">前从来未接触过。从而可知，我在上课前根本</tspan><tspan x="518" dy="14.9">没有了解清楚学生的实际情况：</tspan></text></g>
<g id="p4a"><rect class="box" x="246" y="1784" width="243" height="205" rx="5"/>
<text class="t" x="252" y="1801"><tspan x="252">一方面，农村的学生英语听，说的能力相对较</tspan><tspan x="252" dy="14.9">弱，授课采用较深的全英教学，同学们还不能</tspan><tspan x="252" dy="14.9">适应。另一方面，四班的同学比较活跃，上课</tspan><tspan x="252" dy="14.9">气氛积极，但中等生占较大多数，尖子生相对</tspan><tspan x="252" dy="14.9">较少。因此，讲得太深，没有照顾到整体，而</tspan><tspan x="252" dy="14.9">一班的同学比较沉静，学习欠积极性，虽然优</tspan><tspan x="252" dy="14.9">良生比例大，但中下层面而也广，我备课时也</tspan><tspan x="252" dy="14.9">没有注意到这点，因此教学效果不如理想。从</tspan><tspan x="252" dy="14.9">此可以看出，了解及分析学生实际情况，实事</tspan><tspan x="252" dy="14.9">求是，具体问题具体分析，做到因材施教，对</tspan><tspan x="252" dy="14.9">授课效果有直接影响。这就是教育学中提到的</tspan><tspan x="252" dy="14.9">"备教法的同时要备学生"。这一理论在我的教</tspan><tspan x="252" dy="14.9">学实践中得到了验证。</tspan></text></g>
<g id="p4b"><rect class="box" x="246" y="2015" width="243" height="355" rx="5"/>
<text class="t" x="252" y="2032"><tspan x="252">教学中，备课是一个必不可少，十分重要的环</tspan><tspan x="252" dy="14.9">节，备学生，又要备教法。备课不充分或者备</tspan><tspan x="252" dy="14.9">得不好，会严重影响课堂气氛和积极性，曾有</tspan><tspan x="252" dy="14.9">一位前辈对我说："备课备不好，倒不如不上</tspan><tspan x="252" dy="14.9">课，否则就是白费心机。"我明白到备课的重</tspan><tspan x="252" dy="14.9">要性，因此，每天我都花费大量的时间在备课</tspan><tspan x="252" dy="14.9">之上，认认真真钻研教材和教法，不满意就不</tspan><tspan x="252" dy="14.9">收工。虽然辛苦，但事实证明是值得的。 备</tspan><tspan x="252" dy="14.9">课充分，能调动学生的积极性，上课效果就好</tspan><tspan x="252" dy="14.9">。但同时又要有驾驭课堂的能力，因为学生在</tspan><tspan x="252" dy="14.9">课堂上的一举一动都会直接影响课堂教学。因</tspan><tspan x="252" dy="14.9">此上课一定要设法令学生投入，不让其分心，</tspan><tspan x="252" dy="14.9">这就很讲究方法了。上课内容丰富，现实。教</tspan><tspan x="252" dy="14.9">态自然，讲课生动，难易适中照顾全部，就自</tspan><tspan x="252" dy="14.9">然能够吸引住学生。所以，老师每天都要有充</tspan><tspan x="252" dy="14.9">足的精神，让学生感受到一种自然气氛。这样</tspan><tspan x="252" dy="14.9">，授课就事半功倍。回看自己的授课，我感到</tspan><tspan x="252" dy="14.9">有点愧疚，因为有时我并不能很好地做到这点</tspan><tspan x="252" dy="14.9">。当学生在课堂上无心向学，违反纪律时，我</tspan><tspan x="252" dy="14.9">的情绪就受到影响，并且把这带到教学中，让</tspan><tspan x="252" dy="14.9">原本正常的讲课受到冲击，发挥不到应有的水</tspan><tspan x="252" dy="14.9">平，以致影响教学效果。我以后必须努力克服</tspan><tspan x="252" dy="14.9">，研究方法，采取有利方法解决当中困难。</tspan></text></g>
<g id="p4c"><rect class="box" x="246" y="2395" width="243" height="189" rx="5"/>
<text class="t" x="252" y="2411"><tspan x="252">英语是一门外语，对学生而言，既生疏又困难</tspan><tspan x="252" dy="14.9">，在这样一种大环境之下，要教好英语，就要</tspan><tspan x="252" dy="14.9">让学生喜爱英语，让他们对英语产生兴趣。否</tspan><tspan x="252" dy="14.9">则学生对这门学科产生畏难情绪，不原学，也</tspan><tspan x="252" dy="14.9">无法学下去。为此，我采取了一些方法，就是</tspan><tspan x="252" dy="14.9">帮助班上的同学改英文名，尽量多讲一些关于</tspan><tspan x="252" dy="14.9">英美国家的文化，生活故事!帮助部分同学交</tspan><tspan x="252" dy="14.9">上了"pen friend in America"，让他们更了解</tspan><tspan x="252" dy="14.9">英语，更喜欢学习英语。因为只有英语水平提</tspan><tspan x="252" dy="14.9">高，他们才能达到交异国笔友的目的，同时也</tspan><tspan x="252" dy="14.9">可以提高同学们的英语写作能力，对成绩优秀</tspan><tspan x="252" dy="14.9">的同学很有好处。</tspan></text></g>
<g id="p4d"><rect class="box" x="246" y="2610" width="243" height="280" rx="5"/>
<text class="t" x="252" y="2627"><tspan x="252">因为英语的特殊情况，学生在不断学习中，会</tspan><tspan x="252" dy="14.9">出现好差分化现象，差生面扩大，会严重影响</tspan><tspan x="252" dy="14.9">班内的学习风气。因此，绝对不能忽视。为此</tspan><tspan x="252" dy="14.9">，我制定了具体的计划和目标。对这部分同学</tspan><tspan x="252" dy="14.9">进行有计划的辅导。例如在三班，我把这批同</tspan><tspan x="252" dy="14.9">学分为三个组。第一组是有能力提高，但平时</tspan><tspan x="252" dy="14.9">懒动脑筋不学的同学，对这些同学，我采取集</tspan><tspan x="252" dy="14.9">体辅导，给他们分配固定任务，不让他们有偷</tspan><tspan x="252" dy="14.9">懒的机会，让他们发挥应有水平；第二组是肯</tspan><tspan x="252" dy="14.9">学，但由于能力不强的同学。对这部分同学要</tspan><tspan x="252" dy="14.9">适当引导，耐心教导，慢慢提高他们的成绩，</tspan><tspan x="252" dy="14.9">不能操之过急，且要多鼓励。只要他们肯努力</tspan><tspan x="252" dy="14.9">，成绩有望搞提高；第三组是纪律松散，学习</tspan><tspan x="252" dy="14.9">不认真，基础又不好的同学。对这部分人要进</tspan><tspan x="252" dy="14.9">行课余时间个别辅导。因为这部分同学需要一</tspan><tspan x="252" dy="14.9">个安静而又不受干扰的环境，才会立下心来学</tspan><tspan x="252" dy="14.9">习。只要坚持辅导，这些同学基础重新建立起</tspan><tspan x="252" dy="14.9">来，以后授课的效果就会更好。</tspan></text></g>
<g id="p4e"><rect class="box" x="246" y="2916" width="243" height="114" rx="5"/>
<text class="t" x="252" y="2933"><tspan x="252">英语是语言。因此，除了课堂效果之外，还需</tspan><tspan x="252" dy="14.9">要让学生多读，多讲，多练。为此，在早读时</tspan><tspan x="252" dy="14.9">，我坚持下班了解早读情况，发现问题及时纠</tspan><tspan x="252" dy="14.9">正。课后发现学生作业问题也及时解决，及时</tspan><tspan x="252" dy="14.9">讲清楚，让学生即时消化。另外，对部分不自</tspan><tspan x="252" dy="14.9">觉的同学还采取强硬背诵等方式，提高他们的</tspan><tspan x="252" dy="14.9">能力。</tspan></text></g>

<g id="watermarks">
<text class="wm" text-anchor="middle" transform="translate(640 500) rotate(-30)">树图 shutu.cn</text>
<text class="wm" text-anchor="middle" transform="translate(1920 500) rotate(-30)">树图 shutu.cn</text>
<text class="wm" text-anchor="middle" transform="translate(640 1495) rotate(-30)">树图 shutu.cn</text>
<text class="wm" text-anchor="middle" transform="translate(1920 1495) rotate(-30)">树图 shutu.cn</text>
<text class="wm" text-anchor="middle" transform="translate(640 2490) rotate(-30)">树图 shutu.cn</text>
<text class="wm" text-anchor="middle" transform="translate(1920 2490) rotate(-30)">树图 shutu.cn</text>
<text class="wm" text-anchor="middle" transform="translate(640 3485) rotate(-30)">树图 shutu.cn</text>
<text class="wm" text-anchor="middle" transform="translate(1920 3485) rotate(-30)">树图 shutu.cn</text>
</g>
</svg>
